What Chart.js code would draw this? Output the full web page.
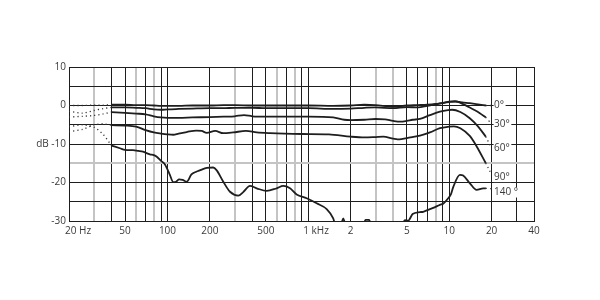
<!DOCTYPE html>
<html>
<head>
<meta charset="utf-8">
<script src="https://cdn.jsdelivr.net/npm/chart.js@4.4.1/dist/chart.umd.min.js"></script>
<style>
  html, body { margin: 0; padding: 0; background: #ffffff; }
  #wrap { width: 600px; height: 300px; }
</style>
</head>
<body>
<div id="wrap"><canvas id="c" width="600" height="300"></canvas></div>
<script>
// ---- data ----
const xTickValues = [20,30,40,50,60,70,80,90,100,200,300,400,500,600,700,800,900,1000,2000,3000,4000,5000,6000,7000,8000,9000,10000,20000,30000,40000];
const xLabelValues = [20,50,100,200,500,1000,2000,5000,10000,20000,40000];
const xLabelTexts = ['20 Hz','50','100','200','500','1 kHz','2','5','10','20','40'];
const yLabelValues = [10,0,-10,-20,-30];
const yLabelTexts = ['10','0','dB -10','-20','-30'];
const angleNames = ['0°','30°','60°','90°','140 °'];
const angleLabelDb = [0.1,-4.9,-11.1,-18.6,-22.6];

const freq0 = [40,50,60,70,80,90,100,120,150,200,250,300,400,500,700,1000,1500,2000,2500,3000,4000,5000,6000,7000,8000,9000,10000,11000,12000,14000,16000,18200];
const db0   = [0.2,0.2,0.1,0.1,0,-0.1,-0.1,-0.1,0,0,0.1,0.1,0,0,0,0,-0.1,0,0.2,0.1,-0.3,0,0.1,0.2,0.4,0.7,0.9,1.0,0.9,0.6,0.3,0];

const freq30 = [40,50,60,70,80,90,100,120,150,200,250,300,400,500,700,1000,1500,2000,2500,3000,4000,5000,6000,7000,8000,9000,10000,11000,12000,13000,14000,15000,16500,18200];
const db30   = [-0.5,-0.5,-0.6,-0.7,-1.0,-1.1,-1.0,-0.9,-0.8,-0.7,-0.7,-0.6,-0.6,-0.7,-0.7,-0.7,-0.9,-0.8,-0.6,-0.5,-0.7,-0.4,-0.5,-0.1,0.3,0.6,1.0,1.1,0.7,0.1,-0.5,-1.1,-2.0,-3.1];

const freq60 = [40,50,60,70,80,90,100,120,150,200,250,300,350,400,500,700,1000,1500,1800,2000,2500,3000,3500,4000,4500,5000,5500,6200,7300,8600,9800,10500,12000,14000,16000,18200];
const db60   = [-1.7,-1.9,-2.1,-2.3,-2.8,-3.1,-3.2,-3.2,-3.1,-3.0,-2.9,-2.8,-2.5,-2.8,-2.9,-2.9,-2.9,-3.1,-3.7,-3.8,-3.7,-3.5,-3.6,-4.0,-4.2,-4.0,-3.7,-3.5,-2.5,-1.6,-1.2,-1.1,-1.7,-3.3,-5.4,-8.1];

const freq90 = [40,50,60,70,80,90,100,110,120,137,160,175,190,218,249,293,361,430,535,900,1400,2000,2500,3000,3400,4000,4300,5300,6200,7300,8600,10000,10800,12000,14000,15600,18200];
const db90   = [-5.1,-5.2,-5.5,-6.4,-7.0,-7.3,-7.5,-7.6,-7.3,-6.9,-6.5,-6.6,-7.1,-6.6,-7.2,-7.0,-6.6,-7.0,-7.2,-7.4,-7.5,-8.1,-8.3,-8.2,-8.1,-8.6,-8.8,-8.3,-7.8,-7.0,-5.9,-5.5,-5.4,-5.9,-7.9,-10.5,-15.0];

const freq140 = [40,46,50,57,62,67,75,80,84,90,96,100,104,110,115,121,128,137,148,160,171,190,211,223,249,278,318,345,385,430,506,596,664,741,826,973,1146,1350,1502,1560,1700,1770,1840,2450,2550,2700,2800,4600,4850,5118,5500,6200,6540,7300,7700,8590,9070,9844,10300,10680,11912,12570,14030,15650,17430,18220];
const db140   = [-10.4,-11.1,-11.5,-11.6,-11.8,-12.0,-12.7,-12.9,-13.3,-14.4,-15.3,-16.6,-18.0,-19.9,-19.8,-19.2,-19.3,-19.8,-17.9,-17.2,-16.8,-16.2,-16.1,-16.8,-19.8,-22.4,-23.4,-22.5,-20.9,-21.5,-22.2,-21.5,-20.9,-21.5,-23.1,-24.1,-25.4,-26.9,-29.3,-31,-31,-29.3,-31,-31,-29.7,-29.7,-31,-31,-29.8,-29.9,-28.2,-27.7,-27.6,-26.9,-26.6,-25.8,-25.5,-24.1,-23.0,-21.2,-18.0,-18.2,-20.2,-21.9,-21.5,-21.5];

// dotted low-frequency continuations (20-40 Hz)
const freqLow = [20,25,30,35,40];
const low0   = [0,0,0.1,0.1,0.2];
const low30  = [-1.5,-2.0,-1.3,-0.8,-0.5];
const low60  = [-3.0,-2.8,-2.6,-2.2,-1.7];
const low90  = [-6.8,-6.2,-5.0,-4.8,-5.1];
const low140 = [-5.5,-5.0,-5.6,-7.5,-10.4];

// dotted high-frequency continuations towards the angle labels
const freqHigh = [18200,19900];
const high0   = [0,0];
const high30  = [-3.1,-4.7];
const high60  = [-8.1,-11.0];
const high90  = [-15.0,-17.8];
const high140 = [-21.5,-21.6];

// ---- build ----
const pts = (fx, vy) => fx.map((f, i) => ({x: f, y: vy[i]}));
const INK = '#1e1e1e';
const solid = (label, fx, vy) => ({
  label, data: pts(fx, vy), borderColor: INK, borderWidth: 1.8,
  pointRadius: 0, fill: false, cubicInterpolationMode: 'monotone'
});
const dotted = (label, fx, vy) => ({
  label, data: pts(fx, vy), borderColor: '#333', borderWidth: 1.3,
  borderDash: [1.2, 3], pointRadius: 0, fill: false, tension: 0.2
});

const grayX = [30,60,80,300,600,800,3000,4000,8000];

const angleLabelPlugin = {
  id: 'angleLabels',
  afterDatasetsDraw(chart) {
    const {ctx, scales: {x, y}} = chart;
    ctx.save();
    ctx.font = '10px "Open Sans"';
    ctx.textBaseline = 'middle';
    ctx.textAlign = 'left';
    const px = x.getPixelForValue(20000) + 2.5;
    angleNames.forEach((t, i) => {
      const py = y.getPixelForValue(angleLabelDb[i]);
      const w = ctx.measureText(t).width;
      ctx.fillStyle = '#ffffff';
      ctx.fillRect(px - 0.5, py - 5, w + 2, 10);
      ctx.fillStyle = '#3a3a3a';
      ctx.fillText(t, px, py);
    });
    ctx.restore();
  }
};

new Chart(document.getElementById('c'), {
  type: 'line',
  data: {
    datasets: [
      solid('0°', freq0, db0),
      solid('30°', freq30, db30),
      solid('60°', freq60, db60),
      solid('90°', freq90, db90),
      solid('140°', freq140, db140),
      dotted('0° low', freqLow, low0),
      dotted('30° low', freqLow, low30),
      dotted('60° low', freqLow, low60),
      dotted('90° low', freqLow, low90),
      dotted('140° low', freqLow, low140),
      dotted('0° high', freqHigh, high0),
      dotted('30° high', freqHigh, high30),
      dotted('60° high', freqHigh, high60),
      dotted('90° high', freqHigh, high90),
      dotted('140° high', freqHigh, high140)
    ]
  },
  options: {
    responsive: false,
    animation: false,
    layout: { padding: { left: 0, top: 67, right: 66, bottom: 0 } },
    plugins: { legend: { display: false }, tooltip: { enabled: false } },
    scales: {
      x: {
        type: 'logarithmic',
        min: 20, max: 40000,
        afterBuildTicks: (s) => { s.ticks = xTickValues.map(v => ({value: v})); },
        afterFit: (s) => { s.height = 79; },
        border: { display: true, color: INK, width: 1 },
        grid: {
          drawTicks: false,
          color: (c) => (c.tick && grayX.includes(c.tick.value)) ? '#c4c4c4' : INK,
          lineWidth: (c) => (c.tick && grayX.includes(c.tick.value)) ? 2 : 1
        },
        ticks: {
          autoSkip: false, maxRotation: 0, minRotation: 0, padding: 4,
          color: '#3a3a3a', font: { family: '"Open Sans"', size: 10 },
          callback: (v) => {
            const i = xLabelValues.indexOf(v);
            if (i < 0) return '';
            const t = xLabelTexts[i];
            if (t === '20 Hz') return '       ' + t;
            if (t === '1 kHz') return '      ' + t;
            return t;
          }
        }
      },
      y: {
        min: -30, max: 10,
        afterBuildTicks: (s) => { const t = []; for (let v = -30; v <= 10; v += 5) t.push({value: v}); s.ticks = t; },
        afterFit: (s) => { s.width = 69; },
        border: { display: true, color: INK, width: 1 },
        grid: {
          drawTicks: false,
          color: (c) => (c.tick && c.tick.value === -15) ? '#c4c4c4' : INK,
          lineWidth: (c) => (c.tick && c.tick.value === -15) ? 2 : 1
        },
        ticks: {
          padding: 3, color: '#3a3a3a', font: { family: '"Open Sans"', size: 10 },
          callback: (v) => {
            const i = yLabelValues.indexOf(v);
            return i < 0 ? '' : yLabelTexts[i];
          }
        }
      }
    }
  },
  plugins: [angleLabelPlugin]
});
</script>
</body>
</html>
